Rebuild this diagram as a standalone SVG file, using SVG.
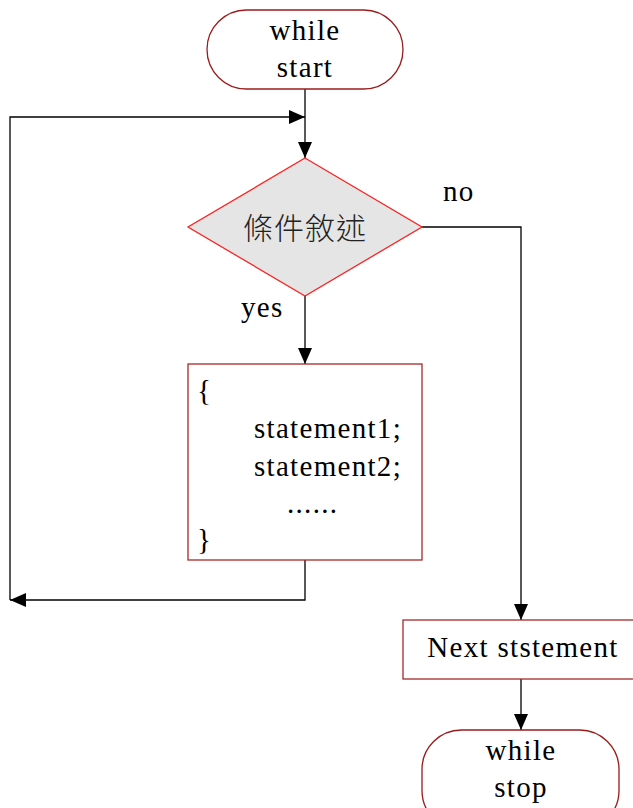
<svg xmlns="http://www.w3.org/2000/svg" width="633" height="808" viewBox="0 0 633 808">
<style>
.t{font-family:'Liberation Serif','DejaVu Serif',serif;font-size:29px;letter-spacing:1.3px;fill:#000}
.term{fill:#fff;stroke:#9b1b1b;stroke-width:1.3}
.box{fill:#fff;stroke:#a52a2a;stroke-width:1.3}
.c{fill:none;stroke:#000;stroke-width:1.3}
</style>
<defs>
<marker id="ah" viewBox="0 0 16 14" refX="16" refY="7" markerWidth="16" markerHeight="14" markerUnits="userSpaceOnUse" orient="auto">
<path d="M0,0 L16,7 L0,14 z" fill="#000"/>
</marker>
</defs>
<rect width="633" height="808" fill="#fff"/>
<g id="connectors">
<path class="c" d="M305,89 V158" marker-end="url(#ah)"/>
<path class="c" d="M10,600 V117 H305" marker-end="url(#ah)"/>
<path class="c" d="M305,296 V364" marker-end="url(#ah)"/>
<path class="c" d="M305,560 V600 H10" marker-end="url(#ah)"/>
<path class="c" d="M422,227 H521 V620" marker-end="url(#ah)"/>
<path class="c" d="M521,679 V730" marker-end="url(#ah)"/>
</g>
<g id="start">
<rect class="term" x="207" y="10" width="196" height="79" rx="39.5" ry="39.5"/>
<text class="t" x="305" y="40" text-anchor="middle">while</text>
<text class="t" x="305" y="77" text-anchor="middle">start</text>
</g>
<g id="cond">
<polygon points="305,158 422,227 305,296 188,227" fill="#e5e5e5" stroke="#ff2020" stroke-width="1.3"/>
<text x="305" y="239" text-anchor="middle" font-family="'Noto Sans CJK TC','Noto Sans CJK SC',sans-serif" font-weight="300" font-size="30" letter-spacing="1" fill="#222">條件敘述</text>
</g>
<text class="t" x="443" y="201">no</text>
<text class="t" x="241" y="317">yes</text>
<g id="body">
<rect class="box" x="188" y="364" width="234" height="196"/>
<text class="t" x="197" y="400">{</text>
<text class="t" x="254" y="438">statement1;</text>
<text class="t" x="254" y="476">statement2;</text>
<text class="t" x="287" y="513">......</text>
<text class="t" x="197" y="549">}</text>
</g>
<g id="next">
<rect class="box" x="403" y="620" width="240" height="59"/>
<text class="t" x="523" y="657" text-anchor="middle">Next ststement</text>
</g>
<g id="stop">
<rect class="term" x="422" y="730" width="197" height="100" rx="39.5" ry="39.5"/>
<text class="t" x="521" y="760" text-anchor="middle">while</text>
<text class="t" x="521" y="797" text-anchor="middle">stop</text>
</g>
</svg>
